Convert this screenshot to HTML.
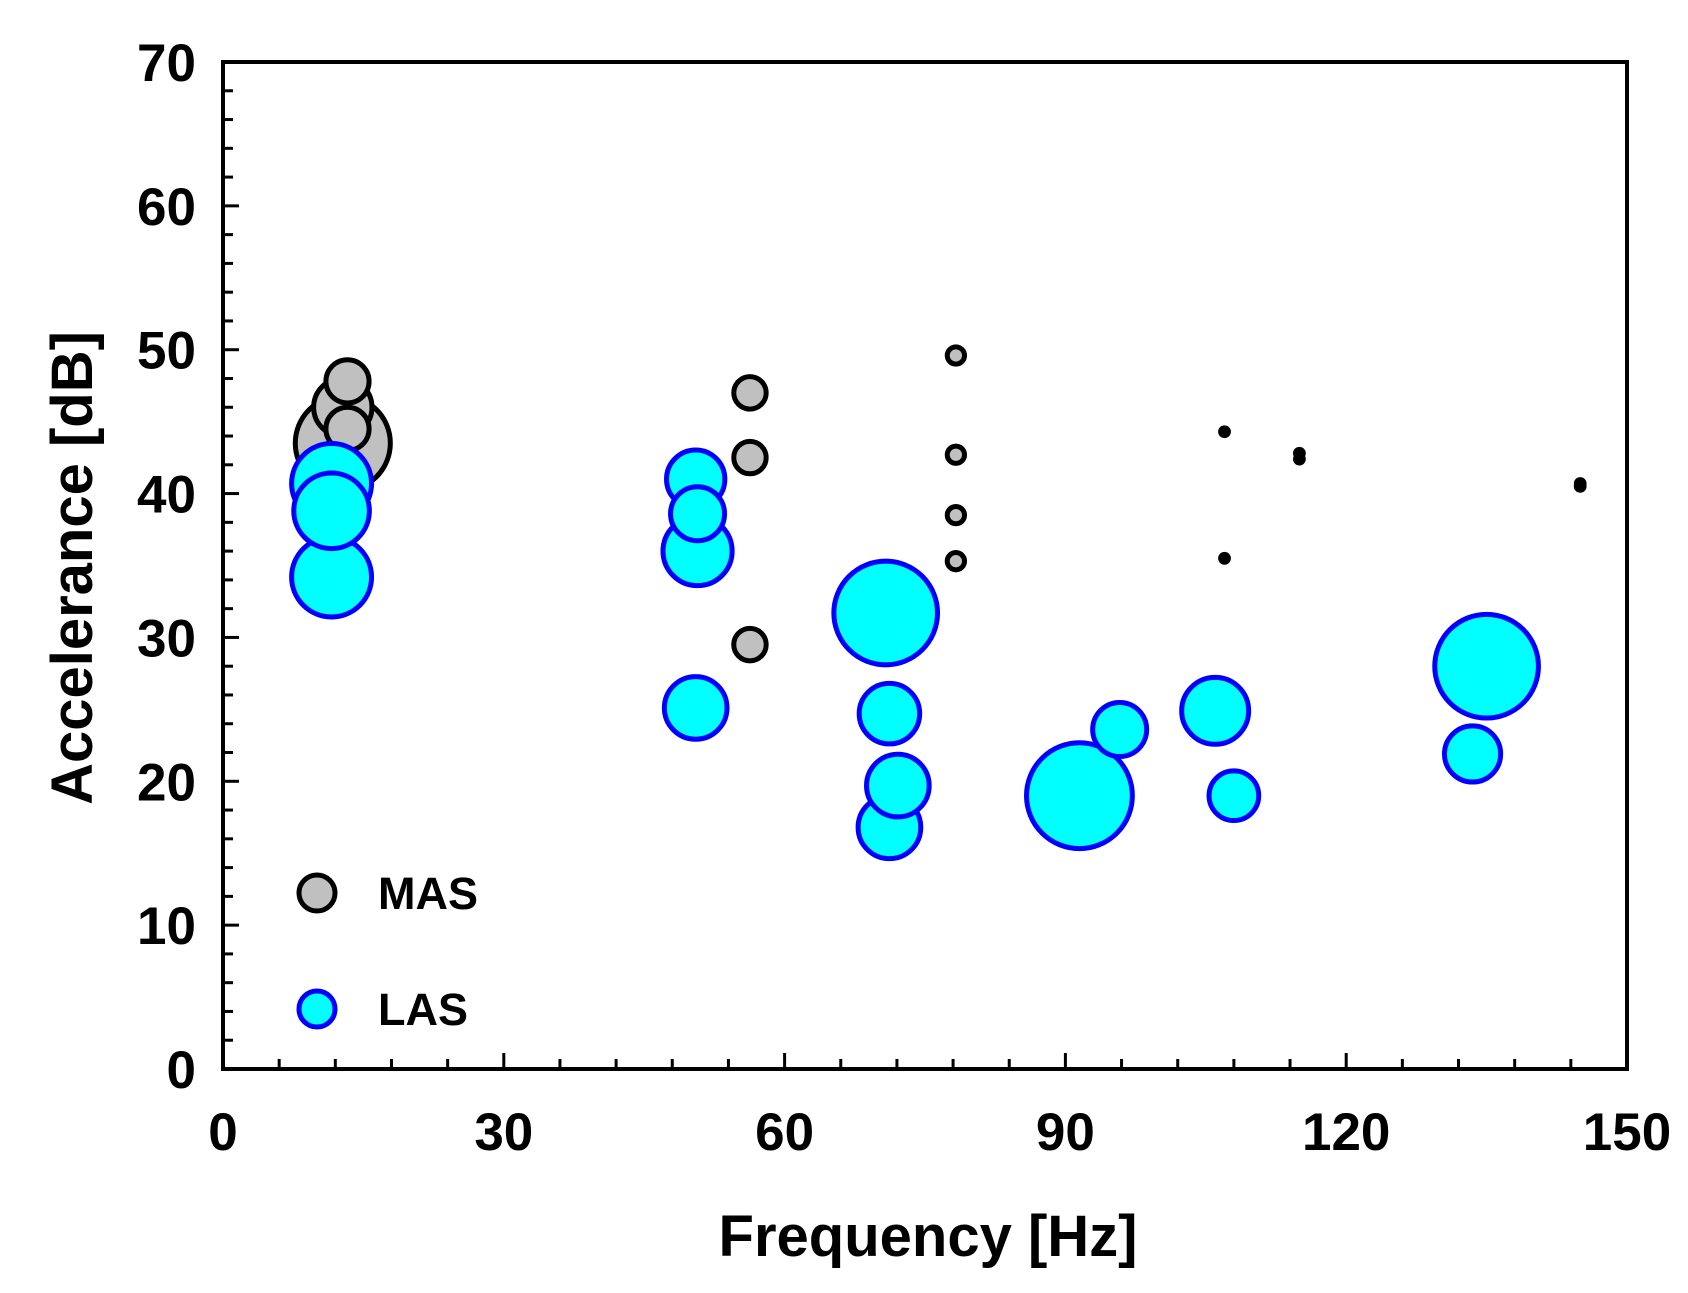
<!DOCTYPE html>
<html><head><meta charset="utf-8"><style>
html,body{margin:0;padding:0;background:#fff;}
svg text{font-family:"Liberation Sans",Arial,sans-serif;font-weight:bold;fill:#000;}
</style></head><body>
<svg id="chart" width="1688" height="1288" viewBox="0 0 1688 1288" xmlns="http://www.w3.org/2000/svg">
<g id="plot"></g>
</svg>
<script>
const xTicks=[0,30,60,90,120,150];
const yTicks=[0,10,20,30,40,50,60,70];
const masX=[12.8,12.8,13.3,13.3,56.3,56.3,56.3,78.3,78.3,78.3,78.3,107,107,115,115,145,145];
const masY=[43.5,46,47.8,44.5,47,42.5,29.5,49.6,42.7,38.5,35.3,44.3,35.5,42.8,42.4,40.7,40.5];
const masS=[44,27,20,20,15,15,15,8,8,8,8,5,5,5,5,5,5];
const lasX=[11.6,11.6,11.6,50.7,50.5,50.7,50.5,70.8,71.2,71.2,72.1,91.5,95.8,106,108,135,133.5];
const lasY=[34.2,40.7,38.8,36,41,38.6,25.1,31.7,24.7,16.8,19.7,19.0,23.6,24.9,19,28,21.9];
const lasS=[37,37,35,32,27,25,29,48,28,29,29,49,25,31,23,48,26];

const L=223,R=1627,T=62,B=1069;
const xs=v=>L+(v-0)/(150-0)*(R-L);
const ys=v=>B-(v-0)/(70-0)*(B-T);
const NS="http://www.w3.org/2000/svg";
const g=document.getElementById('plot');
function mk(t,a,p){const e=document.createElementNS(NS,t);for(const k in a)e.setAttribute(k,a[k]);(p||g).appendChild(e);return e;}

for(let v=0;v<=150;v+=6){const e=mk('line',{x1:xs(v),x2:xs(v),y1:B,y2:B-(v%30===0?16:10),stroke:'#000','stroke-width':3});

}
for(let v=0;v<=70;v+=2){const e=mk('line',{x1:L,x2:L+(v%10===0?16:10),y1:ys(v),y2:ys(v),stroke:'#000','stroke-width':3});

}

xTicks.forEach(v=>{const t=mk('text',{x:xs(v),y:1150,'font-size':53,'text-anchor':'middle'});t.textContent=v;

});
yTicks.forEach(v=>{const t=mk('text',{x:196,y:ys(v)+19,'font-size':53,'text-anchor':'end'});t.textContent=v;

});

masX.forEach((x,i)=>{const s=masS[i];const c=mk('circle',{cx:xs(x),cy:ys(masY[i]),r:s*1.08,fill:s<7?'#000':'#c0c0c0',stroke:'#000','stroke-width':s<7?2:5});

});
lasX.forEach((x,i)=>{const c=mk('circle',{cx:xs(x),cy:ys(lasY[i]),r:lasS[i]*1.08,fill:'#00ffff',stroke:'#0000ff','stroke-width':5});

});

const ax=mk('path',{d:`M${L},${T}H${R}V${B}H${L}Z`,fill:'none',stroke:'#000','stroke-width':4});



const l1=mk('circle',{cx:317,cy:893,r:18,fill:'#c0c0c0',stroke:'#000','stroke-width':5});


const t1=mk('text',{x:378,y:909,'font-size':45});t1.textContent='MAS';


const l2=mk('circle',{cx:317,cy:1009,r:18,fill:'#00ffff',stroke:'#0000ff','stroke-width':5});


const t2=mk('text',{x:378,y:1025,'font-size':45});t2.textContent='LAS';



const xt=mk('text',{x:928,y:1256,'font-size':58,'text-anchor':'middle'});xt.textContent='Frequency [Hz]';


const yt=mk('text',{x:0,y:0,'font-size':58,'text-anchor':'middle',transform:'translate(92,568) rotate(-90)'});yt.textContent='Accelerance [dB]';


</script>
</body></html>
